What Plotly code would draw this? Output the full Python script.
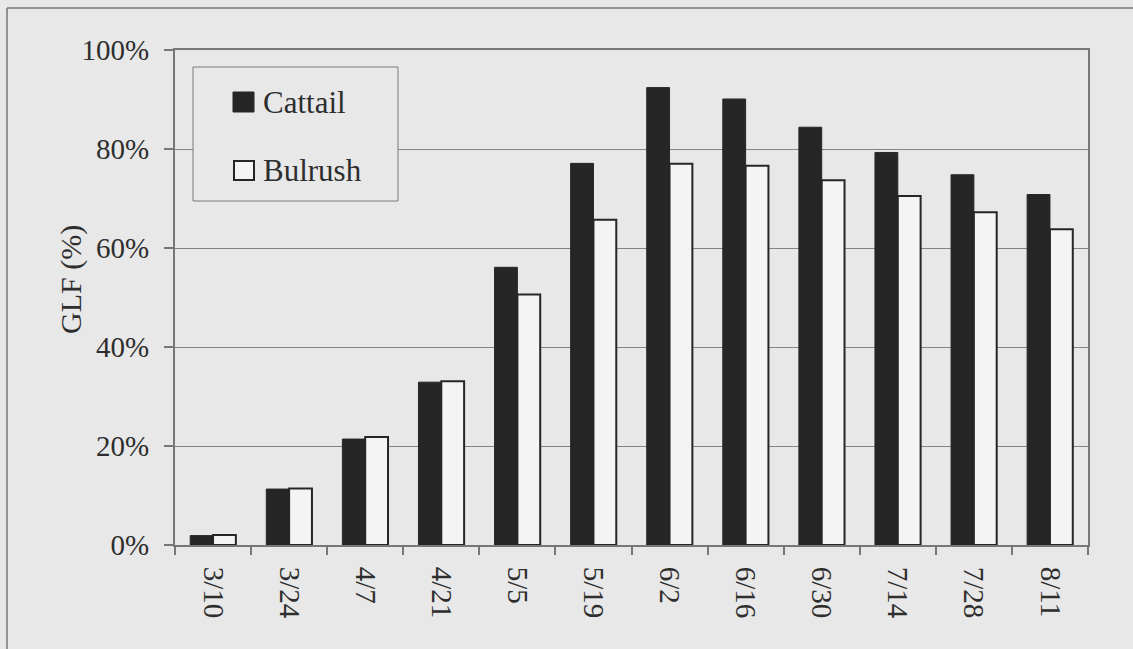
import plotly.graph_objects as go

# Sampling dates (month/day)
dates = ["3/10", "3/24", "4/7", "4/21", "5/5", "5/19", "6/2", "6/16", "6/30", "7/14", "7/28", "8/11"]

# Green leaf fraction (%) per species
cattail = [1.9, 11.3, 21.4, 32.9, 56.1, 77.1, 92.4, 90.1, 84.4, 79.3, 74.8, 70.8]
bulrush = [2.0, 11.4, 21.8, 33.1, 50.6, 65.7, 77.0, 76.6, 73.7, 70.5, 67.2, 63.8]

series_names = ["Cattail", "Bulrush"]

DARK = "#262626"
LIGHT = "#f4f4f4"
BG = "#e8e8e8"
FRAME = "#777777"
TEXT = "#2e2e2e"
FONT = "Liberation Serif"

W, H = 1133, 649
L, R, T, B = 175, 45, 50, 104
pw, ph = W - L - R, H - T - B


def px_x(x):
    return (x - L) / pw


def px_y(y):
    return (H - B - y) / ph


fig = go.Figure()
fig.add_trace(go.Bar(
    x=dates, y=cattail, name=series_names[0],
    marker=dict(color=DARK, line=dict(color=DARK, width=1)),
    showlegend=False,
))
fig.add_trace(go.Bar(
    x=dates, y=bulrush, name=series_names[1],
    marker=dict(color=LIGHT, line=dict(color=DARK, width=2)),
    showlegend=False,
))

shapes = [
    # outer chart frame: only its top and left edges lie on the page
    dict(type="line", xref="paper", yref="paper",
         x0=px_x(7), x1=px_x(W), y0=px_y(8), y1=px_y(8),
         line=dict(color=FRAME, width=1.5), layer="below"),
    dict(type="line", xref="paper", yref="paper",
         x0=px_x(7), x1=px_x(7), y0=px_y(8), y1=px_y(H),
         line=dict(color=FRAME, width=1.5), layer="below"),
    # legend box
    dict(type="rect", xref="paper", yref="paper",
         x0=px_x(193), x1=px_x(398), y0=px_y(201), y1=px_y(67),
         line=dict(color="#7a7a7a", width=1), fillcolor=BG, layer="above"),
    # legend swatches
    dict(type="rect", xref="paper", yref="paper",
         x0=px_x(233), x1=px_x(254), y0=px_y(112), y1=px_y(92),
         line=dict(color=DARK, width=1), fillcolor=DARK, layer="above"),
    dict(type="rect", xref="paper", yref="paper",
         x0=px_x(234), x1=px_x(254), y0=px_y(180), y1=px_y(161),
         line=dict(color=DARK, width=2), fillcolor=LIGHT, layer="above"),
]

annotations = [
    dict(text=series_names[0], xref="paper", yref="paper",
         x=px_x(261), y=px_y(102), xanchor="left", yanchor="middle",
         showarrow=False, font=dict(family=FONT, size=31, color=TEXT)),
    dict(text=series_names[1], xref="paper", yref="paper",
         x=px_x(261), y=px_y(170), xanchor="left", yanchor="middle",
         showarrow=False, font=dict(family=FONT, size=31, color=TEXT)),
    dict(text="GLF (%)", xref="paper", yref="paper",
         x=px_x(71), y=px_y(280), xanchor="center", yanchor="middle",
         textangle=-90, showarrow=False,
         font=dict(family=FONT, size=30, color=TEXT)),
]

fig.update_layout(
    width=W, height=H,
    margin=dict(l=L, r=R, t=T, b=B, pad=0),
    paper_bgcolor=BG, plot_bgcolor=BG,
    barmode="group", bargap=0.4, bargroupgap=0,
    font=dict(family=FONT, size=29, color=TEXT),
    shapes=shapes, annotations=annotations,
    showlegend=False,
)
fig.update_xaxes(
    type="category", tickson="boundaries", ticks="outside", ticklen=8,
    tickcolor=FRAME, tickwidth=1.5, tickangle=90,
    showline=True, linecolor=FRAME, linewidth=2, mirror=True,
    showgrid=False, ticklabelstandoff=14,
    tickfont=dict(family=FONT, size=29, color=TEXT),
)
fig.update_yaxes(
    range=[0, 100], dtick=20, ticksuffix="%", ticks="outside", ticklen=9,
    tickcolor=FRAME, tickwidth=1.5,
    showline=True, linecolor=FRAME, linewidth=2, mirror=True,
    showgrid=True, gridcolor="#858585", gridwidth=1,
    zeroline=False, ticklabelstandoff=9,
    tickfont=dict(family=FONT, size=29, color=TEXT),
)

fig.write_html("out.html")
